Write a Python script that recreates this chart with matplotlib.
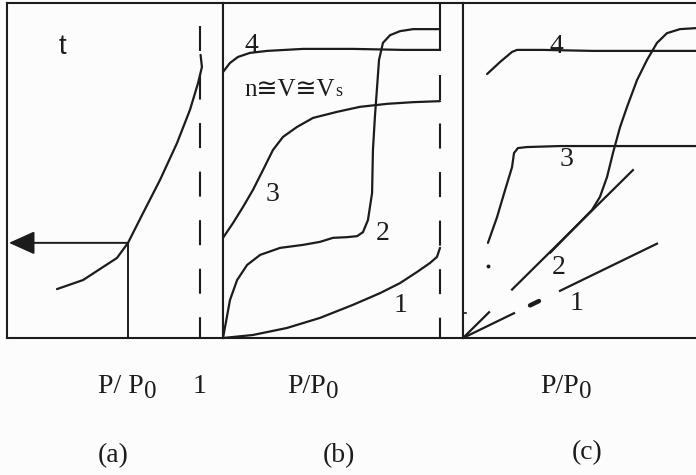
import matplotlib
matplotlib.use("Agg")
import matplotlib.pyplot as plt

W, H = 696, 475
INK = "#1c1c1c"
BG = "#fcfcfd"
SERIF = ["Liberation Serif", "DejaVu Serif", "DejaVu Sans"]

# ---- panel (a): t-curve ----
a_x = [0.259, 0.394, 0.570, 0.627, 0.705, 0.793, 0.881, 0.948, 0.990, 1.010, 1.003]
a_y = [0.146, 0.173, 0.239, 0.284, 0.373, 0.472, 0.582, 0.681, 0.761, 0.809, 0.845]
a_read_x = 0.627
a_read_y = 0.284
a_arrow_end = 0.01
a_dash_top = 0.931

# ---- panel (b): isotherms 1-4 ----
b1_x = [0.0, 0.138, 0.295, 0.447, 0.599, 0.724, 0.816, 0.894, 0.954, 0.986, 1.0]
b1_y = [0.0, 0.009, 0.030, 0.060, 0.099, 0.134, 0.164, 0.197, 0.224, 0.242, 0.269]
b2_x = [0.0, 0.018, 0.032, 0.065, 0.111, 0.171, 0.263, 0.369, 0.447, 0.507, 0.571, 0.618,
        0.645, 0.668, 0.687, 0.691, 0.700, 0.710, 0.719, 0.737, 0.770, 0.816, 0.876, 1.0]
b2_y = [0.0, 0.063, 0.113, 0.173, 0.218, 0.248, 0.269, 0.278, 0.287, 0.299, 0.301, 0.304,
        0.316, 0.352, 0.433, 0.561, 0.660, 0.749, 0.830, 0.881, 0.904, 0.916, 0.922, 0.922]
b3_x = [0.0, 0.046, 0.092, 0.138, 0.184, 0.230, 0.276, 0.341, 0.415, 0.525, 0.631, 0.756, 0.876, 1.0]
b3_y = [0.299, 0.343, 0.391, 0.442, 0.501, 0.561, 0.600, 0.630, 0.657, 0.675, 0.690, 0.699, 0.704, 0.707]
b4_x = [0.0, 0.032, 0.069, 0.124, 0.203, 0.369, 0.599, 0.829, 1.0]
b4_y = [0.794, 0.821, 0.839, 0.851, 0.857, 0.863, 0.863, 0.860, 0.860]
b_dash_top = 0.785
b_cap = [0.860, 1.0]
b_labels = ["1", "2", "3", "4"]
b_label_x = [0.816, 0.737, 0.226, 0.129]
b_label_y = [0.096, 0.313, 0.427, 0.872]

# ---- panel (c): t-plots ----
c4_x = [0.111, 0.171, 0.226, 0.249, 0.369, 0.599, 1.074]
c4_y = [0.788, 0.824, 0.854, 0.860, 0.860, 0.857, 0.857]
c3_x = [0.115, 0.157, 0.194, 0.226, 0.235, 0.253, 0.295, 0.447, 0.756, 1.074]
c3_y = [0.284, 0.361, 0.442, 0.510, 0.552, 0.567, 0.570, 0.573, 0.573, 0.573]
c2_x = [0.401, 0.594, 0.631, 0.664, 0.691, 0.724, 0.756, 0.802, 0.848, 0.894, 0.940, 1.0, 1.074]
c2_y = [0.254, 0.382, 0.421, 0.481, 0.552, 0.630, 0.690, 0.770, 0.830, 0.881, 0.910, 0.922, 0.925]
c2_slope = 0.64
c2_segments = [(0.0, 0.120), (0.226, 0.783)]
c1_slope = 0.315
c1_segments = [(0.0, 0.235), (0.447, 0.894)]
c1_blob = (0.309, 0.350)
c_labels = ["1", "2", "3", "4"]
c_label_x = [0.521, 0.442, 0.479, 0.429]
c_label_y = [0.104, 0.209, 0.534, 0.869]
c_dot = (0.115, 0.215)
c_tick_y = 0.075

fig = plt.figure(figsize=(W / 100, H / 100), dpi=100)
fig.patch.set_facecolor(BG)


def px_axes(x0, x1, y0, y1):
    return fig.add_axes([x0 / W, 1 - y1 / H, (x1 - x0) / W, (y1 - y0) / H])


def style(ax, xmax, right=True):
    ax.set_xlim(0, xmax)
    ax.set_ylim(0, 1)
    ax.set_xticks([])
    ax.set_yticks([])
    ax.set_facecolor(BG)
    for side, sp in ax.spines.items():
        sp.set_linewidth(1.5)
        sp.set_color(INK)
    ax.spines["right"].set_visible(right)


LW = 1.6
DASH = (0, (12, 11.3))
NUM_SIZE = 20

# panel (a)
axa = px_axes(7, 223, 3, 338)
style(axa, 216 / 193)
axa.plot(a_x, a_y, color=INK, lw=LW, solid_capstyle="round", solid_joinstyle="round")
axa.plot([1.0, 1.0], [a_dash_top, 0], color=INK, lw=1.5, ls=DASH)
axa.plot([a_read_x, a_read_x], [0, a_read_y], color=INK, lw=1.4)
axa.annotate("", xy=(a_arrow_end, a_read_y), xytext=(a_read_x, a_read_y),
             arrowprops=dict(arrowstyle="-|>,head_length=0.8,head_width=0.36",
                             mutation_scale=20, color=INK, lw=1.4,
                             shrinkA=0, shrinkB=0))
axa.text(0.285, 0.87, "t", family=["Liberation Sans", "DejaVu Sans"],
         fontsize=20, color=INK, ha="center", va="center")

# panel (b)
axb = px_axes(223, 463, 3, 338)
style(axb, 240 / 217)
for xs, ys in [(b1_x, b1_y), (b2_x, b2_y), (b3_x, b3_y), (b4_x, b4_y)]:
    axb.plot(xs, ys, color=INK, lw=LW, solid_capstyle="round", solid_joinstyle="round")
axb.plot([1.0, 1.0], [b_dash_top, 0], color=INK, lw=1.5, ls=DASH)
axb.plot([1.0, 1.0], b_cap, color=INK, lw=1.5)
for s, x, y in zip(b_labels, b_label_x, b_label_y):
    axb.text(x, y, s, family=SERIF, fontsize=NUM_SIZE, color=INK, ha="center", va="center")
nv = axb.text(0.10, 0.722, "n\u2245V\u2245V", family=SERIF, fontsize=18,
              color=INK, ha="left", va="baseline")
fig.canvas.draw()
nv_bb = nv.get_window_extent()
fig.text(nv_bb.x1 / W, nv_bb.y0 / H + 1 / H, "s", family=SERIF, fontsize=13,
         color=INK, ha="left", va="bottom")

# panel (c)
axc = px_axes(463, 700, 3, 338)
style(axc, 237 / 217, right=False)
for xs, ys in [(c4_x, c4_y), (c3_x, c3_y), (c2_x, c2_y)]:
    axc.plot(xs, ys, color=INK, lw=LW, solid_capstyle="round", solid_joinstyle="round")
for x0, x1 in c2_segments:
    axc.plot([x0, x1], [c2_slope * x0, c2_slope * x1], color=INK, lw=LW)
for x0, x1 in c1_segments:
    axc.plot([x0, x1], [c1_slope * x0, c1_slope * x1], color=INK, lw=LW)
axc.plot(list(c1_blob), [c1_slope * c1_blob[0], c1_slope * c1_blob[1]],
         color=INK, lw=3.2, solid_capstyle="round")
axc.plot([c_dot[0]], [c_dot[1]], marker="o", ms=1.8, color=INK)
axc.plot([0, 0.015], [c_tick_y, c_tick_y], color=INK, lw=1.2)
for s, x, y in zip(c_labels, c_label_x, c_label_y):
    axc.text(x, y, s, family=SERIF, fontsize=NUM_SIZE, color=INK, ha="center", va="center")


# captions under the panels
def caption(px, py, main, sub=None, size=20):
    t = fig.text(px / W, 1 - py / H, main, family=SERIF, fontsize=size,
                 color=INK, ha="left", va="baseline")
    if sub is not None:
        fig.canvas.draw()
        bb = t.get_window_extent()
        fig.text(bb.x1 / W + 0.5 / W, 1 - (py + 5) / H, sub, family=SERIF,
                 fontsize=size * 0.9, color=INK, ha="left", va="baseline")


caption(98, 393, "P/ P", "0")
caption(193, 393, "1")
caption(287, 393, "P/P", "0")
caption(540, 393, "P/P", "0")
caption(98, 462, "(a)")
caption(323, 462, "(b)")
caption(572, 459, "(c)")

fig.savefig("out.png", dpi=100, facecolor=BG)
